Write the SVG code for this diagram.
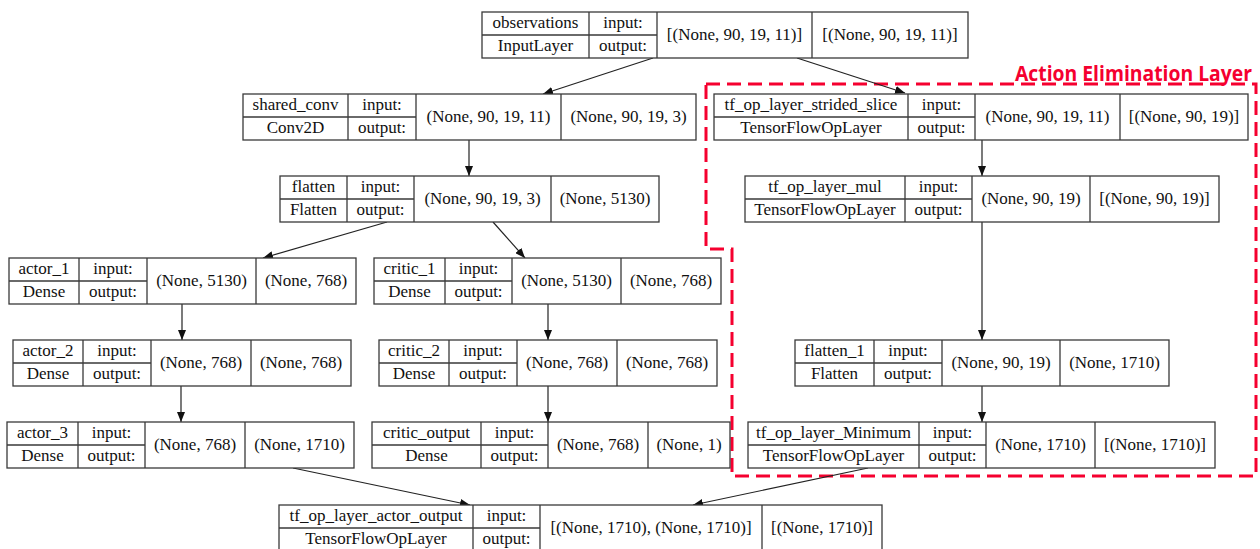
<svg xmlns="http://www.w3.org/2000/svg" width="1260" height="549" viewBox="0 0 1260 549">
<style>
.b{fill:#fff;stroke:#3a3a3a;stroke-width:1.3}
.d{fill:none;stroke:#3a3a3a;stroke-width:1.3}
.t{font-family:"Liberation Serif","Times New Roman",serif;font-size:17px;fill:#111;text-anchor:middle}
.e{fill:none;stroke:#222;stroke-width:1.2;marker-end:url(#ah)}
.red{fill:none;stroke:#f5002f;stroke-width:3;stroke-dasharray:14 7}
.lbl{font-family:"Open Sans","Liberation Sans",Arial,sans-serif;font-weight:bold;font-size:22px;fill:#f5002f}
</style>
<defs>
<marker id="ah" markerUnits="userSpaceOnUse" markerWidth="11" markerHeight="8" refX="10" refY="4" orient="auto">
<path d="M0,0 L10,4 L0,8 z" fill="#111"/>
</marker>
</defs>
<rect width="1260" height="549" fill="#fff"/>

<g id="group-action-elimination">
<path class="red" d="M706,84 L1256,84 L1256,476 L732,476 L732,249 L706,249 Z"/>
<text class="lbl" x="1015" y="81" textLength="237" lengthAdjust="spacingAndGlyphs">Action Elimination Layer</text>
</g>

<g id="connectors">
<path class="e" d="M653,58 L543,94"/>
<path class="e" d="M797,58 L905,93"/>
<path class="e" d="M469,140 L469,176"/>
<path class="e" d="M387,222 L263,258"/>
<path class="e" d="M493,222 L525,258"/>
<path class="e" d="M182,304 L182,340"/>
<path class="e" d="M181,386 L181,422"/>
<path class="e" d="M548,304 L548,340"/>
<path class="e" d="M548,386 L548,422"/>
<path class="e" d="M982,140 L982,176"/>
<path class="e" d="M982,222 L982,340"/>
<path class="e" d="M982,386 L982,422"/>
<path class="e" d="M293,468 L470,505"/>
<path class="e" d="M868,468 L693,505"/>
</g>

<g id="observations">
<rect class="b" x="482" y="12" width="486" height="46"/>
<path class="d" d="M589,12 V58 M657,12 V58 M812,12 V58 M482,35 H657"/>
<text class="t" x="535.5" y="28">observations</text>
<text class="t" x="535.5" y="51">InputLayer</text>
<text class="t" x="623" y="28">input:</text>
<text class="t" x="623" y="51">output:</text>
<text class="t" x="734.5" y="40">[(None, 90, 19, 11)]</text>
<text class="t" x="890" y="40">[(None, 90, 19, 11)]</text>
</g>

<g id="shared_conv">
<rect class="b" x="243" y="94" width="453" height="46"/>
<path class="d" d="M348,94 V140 M416,94 V140 M561,94 V140 M243,117 H416"/>
<text class="t" x="295.5" y="110">shared_conv</text>
<text class="t" x="295.5" y="133">Conv2D</text>
<text class="t" x="382" y="110">input:</text>
<text class="t" x="382" y="133">output:</text>
<text class="t" x="488.5" y="122">(None, 90, 19, 11)</text>
<text class="t" x="628.5" y="122">(None, 90, 19, 3)</text>
</g>

<g id="flatten">
<rect class="b" x="280" y="176" width="379" height="46"/>
<path class="d" d="M347,176 V222 M414,176 V222 M551,176 V222 M280,199 H414"/>
<text class="t" x="313.5" y="192">flatten</text>
<text class="t" x="313.5" y="215">Flatten</text>
<text class="t" x="380.5" y="192">input:</text>
<text class="t" x="380.5" y="215">output:</text>
<text class="t" x="482.5" y="204">(None, 90, 19, 3)</text>
<text class="t" x="605" y="204">(None, 5130)</text>
</g>

<g id="tf_op_layer_strided_slice">
<rect class="b" x="714" y="94" width="534" height="46"/>
<path class="d" d="M908,94 V140 M975,94 V140 M1120,94 V140 M714,117 H975"/>
<text class="t" x="811" y="110">tf_op_layer_strided_slice</text>
<text class="t" x="811" y="133">TensorFlowOpLayer</text>
<text class="t" x="941.5" y="110">input:</text>
<text class="t" x="941.5" y="133">output:</text>
<text class="t" x="1047.5" y="122">(None, 90, 19, 11)</text>
<text class="t" x="1184" y="122">[(None, 90, 19)]</text>
</g>

<g id="tf_op_layer_mul">
<rect class="b" x="745" y="176" width="474" height="46"/>
<path class="d" d="M905,176 V222 M972,176 V222 M1090,176 V222 M745,199 H972"/>
<text class="t" x="825" y="192">tf_op_layer_mul</text>
<text class="t" x="825" y="215">TensorFlowOpLayer</text>
<text class="t" x="938.5" y="192">input:</text>
<text class="t" x="938.5" y="215">output:</text>
<text class="t" x="1031" y="204">(None, 90, 19)</text>
<text class="t" x="1154.5" y="204">[(None, 90, 19)]</text>
</g>

<g id="actor_1">
<rect class="b" x="9" y="258" width="347" height="46"/>
<path class="d" d="M79,258 V304 M147,258 V304 M256,258 V304 M9,281 H147"/>
<text class="t" x="44" y="274">actor_1</text>
<text class="t" x="44" y="297">Dense</text>
<text class="t" x="113" y="274">input:</text>
<text class="t" x="113" y="297">output:</text>
<text class="t" x="201.5" y="286">(None, 5130)</text>
<text class="t" x="306" y="286">(None, 768)</text>
</g>

<g id="critic_1">
<rect class="b" x="374" y="258" width="347" height="46"/>
<path class="d" d="M445,258 V304 M512,258 V304 M621,258 V304 M374,281 H512"/>
<text class="t" x="409.5" y="274">critic_1</text>
<text class="t" x="409.5" y="297">Dense</text>
<text class="t" x="478.5" y="274">input:</text>
<text class="t" x="478.5" y="297">output:</text>
<text class="t" x="566.5" y="286">(None, 5130)</text>
<text class="t" x="671" y="286">(None, 768)</text>
</g>

<g id="actor_2">
<rect class="b" x="13" y="340" width="338" height="46"/>
<path class="d" d="M83,340 V386 M151,340 V386 M251,340 V386 M13,363 H151"/>
<text class="t" x="48" y="356">actor_2</text>
<text class="t" x="48" y="379">Dense</text>
<text class="t" x="117" y="356">input:</text>
<text class="t" x="117" y="379">output:</text>
<text class="t" x="201" y="368">(None, 768)</text>
<text class="t" x="301" y="368">(None, 768)</text>
</g>

<g id="critic_2">
<rect class="b" x="379" y="340" width="338" height="46"/>
<path class="d" d="M449,340 V386 M517,340 V386 M617,340 V386 M379,363 H517"/>
<text class="t" x="414" y="356">critic_2</text>
<text class="t" x="414" y="379">Dense</text>
<text class="t" x="483" y="356">input:</text>
<text class="t" x="483" y="379">output:</text>
<text class="t" x="567" y="368">(None, 768)</text>
<text class="t" x="667" y="368">(None, 768)</text>
</g>

<g id="flatten_1">
<rect class="b" x="795" y="340" width="374" height="46"/>
<path class="d" d="M874,340 V386 M942,340 V386 M1060,340 V386 M795,363 H942"/>
<text class="t" x="834.5" y="356">flatten_1</text>
<text class="t" x="834.5" y="379">Flatten</text>
<text class="t" x="908" y="356">input:</text>
<text class="t" x="908" y="379">output:</text>
<text class="t" x="1001" y="368">(None, 90, 19)</text>
<text class="t" x="1114.5" y="368">(None, 1710)</text>
</g>

<g id="actor_3">
<rect class="b" x="7" y="422" width="347" height="46"/>
<path class="d" d="M78,422 V468 M145,422 V468 M245,422 V468 M7,445 H145"/>
<text class="t" x="42.5" y="438">actor_3</text>
<text class="t" x="42.5" y="461">Dense</text>
<text class="t" x="111.5" y="438">input:</text>
<text class="t" x="111.5" y="461">output:</text>
<text class="t" x="195" y="450">(None, 768)</text>
<text class="t" x="299.5" y="450">(None, 1710)</text>
</g>

<g id="critic_output">
<rect class="b" x="372" y="422" width="358" height="46"/>
<path class="d" d="M481,422 V468 M548,422 V468 M648,422 V468 M372,445 H548"/>
<text class="t" x="426.5" y="438">critic_output</text>
<text class="t" x="426.5" y="461">Dense</text>
<text class="t" x="514.5" y="438">input:</text>
<text class="t" x="514.5" y="461">output:</text>
<text class="t" x="598" y="450">(None, 768)</text>
<text class="t" x="689" y="450">(None, 1)</text>
</g>

<g id="tf_op_layer_Minimum">
<rect class="b" x="748" y="422" width="467" height="46"/>
<path class="d" d="M919,422 V468 M986,422 V468 M1095,422 V468 M748,445 H986"/>
<text class="t" x="833.5" y="438">tf_op_layer_Minimum</text>
<text class="t" x="833.5" y="461">TensorFlowOpLayer</text>
<text class="t" x="952.5" y="438">input:</text>
<text class="t" x="952.5" y="461">output:</text>
<text class="t" x="1040.5" y="450">(None, 1710)</text>
<text class="t" x="1155" y="450">[(None, 1710)]</text>
</g>

<g id="tf_op_layer_actor_output">
<rect class="b" x="279" y="505" width="603" height="46"/>
<path class="d" d="M473,505 V551 M540,505 V551 M762,505 V551 M279,528 H540"/>
<text class="t" x="376" y="521">tf_op_layer_actor_output</text>
<text class="t" x="376" y="544">TensorFlowOpLayer</text>
<text class="t" x="506.5" y="521">input:</text>
<text class="t" x="506.5" y="544">output:</text>
<text class="t" x="651" y="533">[(None, 1710), (None, 1710)]</text>
<text class="t" x="822" y="533">[(None, 1710)]</text>
</g>
</svg>
